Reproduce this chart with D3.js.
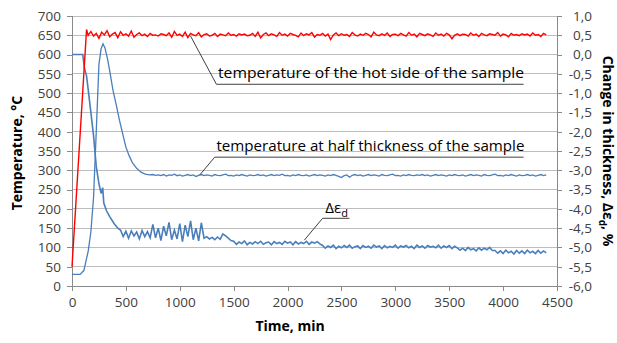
<!DOCTYPE html>
<html><head><meta charset="utf-8">
<script src="https://cdn.jsdelivr.net/npm/d3@7"></script>
<style>body{margin:0;background:#fff}svg{display:block}</style>
</head><body>
<script>
// ---------- DATA ----------
const xTicks = [0,500,1000,1500,2000,2500,3000,3500,4000,4500];
const tempTicks = [0,50,100,150,200,250,300,350,400,450,500,550,600,650,700];
const strainTicks = [1.0,0.5,0.0,-0.5,-1.0,-1.5,-2.0,-2.5,-3.0,-3.5,-4.0,-4.5,-5.0,-5.5,-6.0];

// hot side temperature (°C)
const hotTime = [0,135].concat(d3.range(150,4401,25));
const hotTemp = [50,665,
650,660,648,655,642,658,651,662,646,653,657,644,659,650,654,648,661,645,652,656,
649,653,647,655,650,651,648,654,652,649,656,645,660,650,653,647,658,644,655,651,
649,657,646,652,654,648,650,655,647,653,651,649,656,650,652,648,654,651,653,649,
650,655,647,658,643,652,656,649,654,651,647,657,650,653,648,655,652,650,646,656,
649,654,651,657,645,652,650,655,648,653,639,651,656,649,654,650,652,647,657,651,
648,653,650,655,652,646,658,651,649,654,650,656,647,652,653,649,655,651,648,657,
650,653,646,655,652,649,654,651,647,656,650,653,648,655,651,641,650,654,649,653,
652,648,656,650,653,647,655,651,649,654,652,650,657,648,653,651,646,655,650,652,
649,654,651,653,648,656,650,652,647,655,651];

// half thickness temperature (°C)
const halfTime = [0,75,110,150,175,200,225,250,270,288,305,330,350,380,410,440,470,500,530,560,600,640,680,720]
  .concat(d3.range(750,4401,25));
const halfTemp = [30,30,40,90,140,230,400,575,615,628,618,588,558,508,470,430,395,360,338,320,305,295,290,288,
289,287,288,286,289,285,288,287,290,286,
288,285,287,289,286,288,284,287,289,286,
288,287,285,289,287,286,288,290,286,287,
285,288,286,289,287,285,288,286,287,289,
286,288,285,287,289,286,288,287,290,286,
287,285,288,286,289,287,286,288,285,287,
289,286,288,287,285,288,286,289,287,284,
281,286,288,282,287,289,286,288,285,287,
289,286,288,287,285,289,287,286,288,290,
286,287,285,288,286,289,287,286,288,287,
289,286,288,285,287,289,286,288,287,285,
288,286,289,287,286,288,285,287,289,286,
288,287,285,289,287,286,288,290,286,287,
285,288,286,289,287,285,288,286,287,289,
286,288,285,287,289,286,288];

// change in thickness (%)
const strainTime = [0,100,115,135,150,175,200,225,250,270,280,285,295,320,350,390,425]
  .concat(d3.range(450,4401,25));
const strainVal = [0.0,0.0,-0.35,-0.55,-0.9,-1.5,-2.1,-2.9,-3.35,-3.6,-3.5,-3.45,-3.85,-4.05,-4.2,-4.38,-4.5,
-4.55,-4.72,-4.58,-4.76,-4.57,-4.7,-4.6,-4.78,-4.56,-4.72,-4.59,-4.75,
-4.4,-4.75,-4.5,-4.82,-4.45,-4.7,-4.35,-4.8,-4.55,-4.78,-4.38,-4.85,-4.42,-4.72,-4.31,-4.8,-4.5,-4.83,-4.36,-4.76,
-4.72,-4.78,-4.74,-4.8,-4.73,-4.79,-4.65,-4.7,-4.76,-4.82,
-4.84,-4.92,-4.86,-4.9,-4.83,-4.93,-4.87,-4.91,-4.85,-4.9,-4.84,-4.92,-4.88,-4.86,-4.93,-4.85,-4.9,-4.87,-4.92,-4.84,-4.89,-4.86,-4.93,-4.85,-4.91,-4.87,-4.9,-4.84,-4.92,-4.86,-4.89,-4.85,-4.91,
-4.95,-5.02,-4.96,-5.0,-4.94,-5.03,-4.97,-5.01,-4.95,-5.0,
-4.94,-5.02,-4.98,-4.96,-5.03,-4.95,-5.0,-4.97,-5.02,-4.94,
-4.99,-4.96,-5.03,-4.95,-5.01,-4.97,-5.0,-4.94,-5.02,-4.96,
-4.99,-4.95,-5.01,-4.97,-5.03,-4.94,-5.0,-4.96,-5.02,-4.95,
-4.99,-4.97,-5.01,-4.94,-5.02,-4.96,-5.0,-4.95,-5.03,-4.97,
-5.01,-5.07,-5.02,-5.08,-5.0,-5.06,-5.03,-5.09,-5.01,-5.07,-5.02,-5.06,-5.0,-5.08,
-5.08,-5.15,-5.09,-5.16,-5.07,-5.14,-5.1,-5.17,-5.08,-5.15,-5.09,-5.16,-5.07,-5.14,-5.1,-5.16,-5.08,-5.15,-5.09,-5.14];

// ---------- CHART ----------
const W = 617, H = 343;
const FONT = "'Open Sans', 'Noto Sans', sans-serif";
const svg = d3.select("body").append("svg").attr("width", W).attr("height", H)
  .style("font-family", FONT);

const x = d3.scaleLinear().domain([0,4500]).range([72,557]);
const yL = d3.scaleLinear().domain([0,700]).range([286,16]);
const yR = d3.scaleLinear().domain([-6,1]).range([286,16]);

const gridC = "#bdbdbd", axisC = "#8a8a8a", textC = "#404040";

// gridlines
svg.append("g").selectAll("line").data(tempTicks.filter(d => d > 0)).join("line")
  .attr("x1", x(0)).attr("x2", x(4500))
  .attr("y1", d => yL(d)).attr("y2", d => yL(d))
  .attr("stroke", gridC).attr("stroke-width", 1).attr("shape-rendering", "crispEdges");

// axes
const fmtR = d => d3.format(".1f")(d).replace(".", ",").replace("\u2212", "-");
const gx = svg.append("g").attr("transform", `translate(0,${yL(0)})`)
  .call(d3.axisBottom(x).tickValues(xTicks).tickFormat(d3.format("d")).tickSize(5).tickPadding(6));
const gl = svg.append("g").attr("transform", `translate(${x(0)},0)`)
  .call(d3.axisLeft(yL).tickValues(tempTicks).tickFormat(d3.format("d")).tickSize(5).tickPadding(6));
const gr = svg.append("g").attr("transform", `translate(${x(4500)},0)`)
  .call(d3.axisRight(yR).tickValues(strainTicks).tickFormat(fmtR).tickSize(5).tickPadding(4));
[gx, gl, gr].forEach(g => {
  g.select(".domain").attr("stroke", axisC).attr("shape-rendering", "crispEdges");
  g.selectAll(".tick line").attr("stroke", axisC).attr("shape-rendering", "crispEdges");
  g.selectAll(".tick text").attr("fill", textC).style("font-family", FONT).style("font-size", "13.5px");
});
gr.selectAll(".tick text").attr("text-anchor", "end").attr("x", 35);

// lines
const blue = "#4a7ebb";
const lineL = d3.line().x(d => x(d[0])).y(d => yL(d[1]));
const lineR = d3.line().x(d => x(d[0])).y(d => yR(d[1]));

svg.append("path").datum(d3.zip(strainTime, strainVal)).attr("d", lineR)
  .attr("fill", "none").attr("stroke", blue).attr("stroke-width", 1.6);
svg.append("path").datum(d3.zip(halfTime, halfTemp)).attr("d", lineL)
  .attr("fill", "none").attr("stroke", blue).attr("stroke-width", 1.3);
svg.append("path").datum(d3.zip(hotTime, hotTemp)).attr("d", lineL)
  .attr("fill", "none").attr("stroke", "#ff0000").attr("stroke-width", 1.4);

// annotations
const ann = svg.append("g");
const leader = (pts, sc) => ann.append("polyline")
  .attr("points", pts.map(p => [x(p[0]), sc(p[1])].join(",")).join(" "))
  .attr("fill", "none").attr("stroke", "#404040").attr("stroke-width", 1);

leader([[1100,648],[1340,523],[4190,523]], yL);
ann.append("text").attr("x", x(1355)).attr("y", yL(540))
  .attr("textLength", 306).attr("lengthAdjust", "spacingAndGlyphs")
  .style("font-size", "15px").attr("fill", "#000")
  .text("temperature of the hot side of the sample");

leader([[1186,288],[1324,334],[4190,334]], yL);
ann.append("text").attr("x", x(1340)).attr("y", yL(349))
  .attr("textLength", 308).attr("lengthAdjust", "spacingAndGlyphs")
  .style("font-size", "15px").attr("fill", "#000")
  .text("temperature at half thickness of the sample");

leader([[2156,-4.81],[2325,-4.245],[2574,-4.245]], yR);
const dl = ann.append("text").attr("x", x(2350)).attr("y", yR(-4.12))
  .style("font-size", "15px").attr("fill", "#000");
dl.append("tspan").text("Δε");
dl.append("tspan").attr("dy", 4).style("font-size", "11px").text("d");

// axis titles
svg.append("text").attr("transform", `translate(22,${(yL(0)+yL(700))/2 + 2}) rotate(-90)`)
  .attr("text-anchor", "middle").style("font-size", "14px").style("font-weight", "bold")
  .attr("fill", "#000").text("Temperature, °C");

const rt = svg.append("text").attr("transform", `translate(603,${(yL(0)+yL(700))/2}) rotate(90)`)
  .attr("text-anchor", "middle").style("font-size", "14px").style("font-weight", "bold")
  .attr("fill", "#000");
rt.append("tspan").text("Change in thickness, Δε");
rt.append("tspan").attr("dy", 4).style("font-size", "10px").text("d");
rt.append("tspan").attr("dy", -4).text(", %");

svg.append("text").attr("x", 290).attr("y", 331)
  .attr("text-anchor", "middle").style("font-size", "14px").style("font-weight", "bold")
  .attr("fill", "#000").text("Time, min");
</script>
</body></html>
